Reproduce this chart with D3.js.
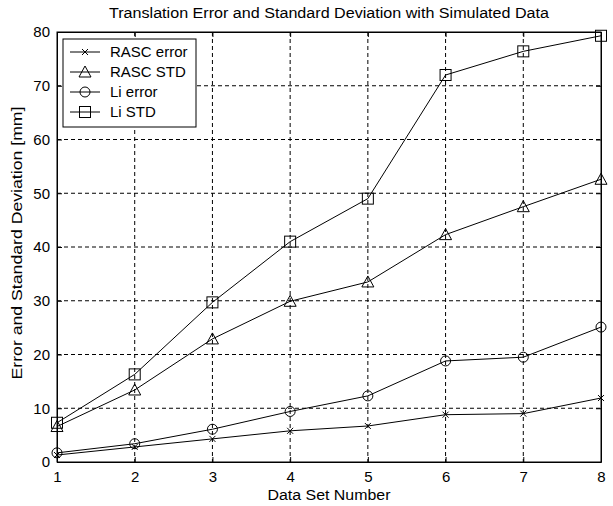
<!DOCTYPE html>
<html>
<head>
<meta charset="utf-8">
<script src="https://cdn.jsdelivr.net/npm/d3@7"></script>
<style>
  body { margin: 0; background: #fff; }
  text { font-family: Arial, "Liberation Sans", sans-serif; fill: #000; }
</style>
</head>
<body>
<div id="chart"></div>
<script>
// Data
var dataSets = [1, 2, 3, 4, 5, 6, 7, 8];
var rascError = [1.3, 2.8, 4.3, 5.8, 6.7, 8.8, 9.0, 11.9];
var rascStd   = [6.6, 13.4, 22.9, 29.9, 33.5, 42.3, 47.5, 52.6];
var liError   = [1.7, 3.4, 6.1, 9.4, 12.3, 18.8, 19.5, 25.1];
var liStd     = [7.3, 16.3, 29.7, 41.0, 49.0, 72.0, 76.4, 79.3];
var seriesNames = ["RASC error", "RASC STD", "Li error", "Li STD"];
var yTicks = [0, 10, 20, 30, 40, 50, 60, 70, 80];

var titleText = "Translation Error and Standard Deviation with Simulated Data";
var xLabel = "Data Set Number";
var yLabel = "Error and Standard Deviation [mm]";

// size and margins
var margin = {top: 32, right: 12, bottom: 44, left: 57},
    width = 613 - margin.left - margin.right,
    height = 506 - margin.top - margin.bottom;

var svg = d3.select("#chart")
  .append("svg")
    .attr("width", 613)
    .attr("height", 506);

var g = svg.append("g")
  .attr("transform", "translate(" + margin.left + "," + margin.top + ")");

var x = d3.scaleLinear().domain([1, 8]).range([0, width]);
var y = d3.scaleLinear().domain([0, 80]).range([height, 0]);

// dashed grid
g.selectAll(".vgrid")
  .data(dataSets.slice(1, -1))
  .enter().append("line")
    .attr("x1", d => x(d)).attr("x2", d => x(d))
    .attr("y1", 0).attr("y2", height)
    .attr("stroke", "#000").attr("stroke-dasharray", "4,3");
g.selectAll(".hgrid")
  .data(yTicks.slice(1, -1))
  .enter().append("line")
    .attr("y1", d => y(d)).attr("y2", d => y(d))
    .attr("x1", 0).attr("x2", width)
    .attr("stroke", "#000").attr("stroke-dasharray", "4,3");

// axes (ticks pointing inward, Matlab style)
var xAxis = g.append("g")
  .attr("transform", "translate(0," + height + ")")
  .call(d3.axisBottom(x).tickValues(dataSets).tickFormat(d3.format("d"))
        .tickSizeInner(-5).tickSizeOuter(0).tickPadding(9));
var yAxis = g.append("g")
  .call(d3.axisLeft(y).tickValues(yTicks).tickSizeInner(-5).tickSizeOuter(0).tickPadding(7));
g.append("g")
  .attr("transform", "translate(0,0)")
  .call(d3.axisTop(x).tickValues(dataSets).tickFormat("").tickSizeInner(-5).tickSizeOuter(0));
g.append("g")
  .attr("transform", "translate(" + width + ",0)")
  .call(d3.axisRight(y).tickValues(yTicks).tickFormat("").tickSizeInner(-5).tickSizeOuter(0));

g.selectAll(".domain").attr("stroke", "#000");
g.selectAll(".tick line").attr("stroke", "#000");
g.selectAll(".tick text").style("font-size", "15px");

// plot box
g.append("rect")
  .attr("width", width).attr("height", height)
  .attr("fill", "none").attr("stroke", "#000");

// markers
function drawMarker(sel, kind) {
  if (kind === "x") {
    sel.append("path").attr("d", "M-3,-3L3,3M-3,3L3,-3")
      .attr("stroke", "#000").attr("fill", "none");
  } else if (kind === "tri") {
    sel.append("path").attr("d", "M0,-6L6,5L-6,5Z")
      .attr("stroke", "#000").attr("fill", "none");
  } else if (kind === "circle") {
    sel.append("circle").attr("r", 5)
      .attr("stroke", "#000").attr("fill", "none");
  } else {
    sel.append("rect").attr("x", -5.5).attr("y", -5.5).attr("width", 11).attr("height", 11)
      .attr("stroke", "#000").attr("fill", "none");
  }
}

var allSeries = [rascError, rascStd, liError, liStd];
var markerKinds = ["x", "tri", "circle", "square"];

var line = d3.line()
  .x((d, i) => x(dataSets[i]))
  .y(d => y(d));

allSeries.forEach(function(vals, k) {
  g.append("path")
    .datum(vals)
    .attr("d", line)
    .attr("fill", "none")
    .attr("stroke", "#000")
    .attr("stroke-width", 1);
  g.selectAll(".m" + k)
    .data(vals)
    .enter().append("g")
      .attr("transform", (d, i) => "translate(" + x(dataSets[i]) + "," + y(d) + ")")
      .each(function() { drawMarker(d3.select(this), markerKinds[k]); });
});

// legend
var legend = g.append("g").attr("transform", "translate(6,7)");
legend.append("rect")
  .attr("width", 133).attr("height", 88)
  .attr("fill", "#fff").attr("stroke", "#000");
seriesNames.forEach(function(name, k) {
  var row = legend.append("g").attr("transform", "translate(0," + (13 + k * 20) + ")");
  row.append("line").attr("x1", 7).attr("x2", 37).attr("stroke", "#000");
  var mk = row.append("g").attr("transform", "translate(22,0)");
  drawMarker(mk, markerKinds[k]);
  row.append("text")
    .attr("x", 47).attr("dy", "0.36em")
    .style("font-size", "15px")
    .text(name);
});

// title and labels
svg.append("text")
  .attr("x", margin.left + width / 2).attr("y", 18)
  .attr("text-anchor", "middle")
  .style("font-size", "14px")
  .attr("textLength", 440).attr("lengthAdjust", "spacingAndGlyphs")
  .text(titleText);

svg.append("text")
  .attr("x", margin.left + width / 2).attr("y", 500)
  .attr("text-anchor", "middle")
  .style("font-size", "14px")
  .attr("textLength", 123).attr("lengthAdjust", "spacingAndGlyphs")
  .text(xLabel);

svg.append("text")
  .attr("transform", "translate(22," + (margin.top + height / 2 - 4) + ") rotate(-90)")
  .attr("text-anchor", "middle")
  .style("font-size", "14px")
  .attr("textLength", 273).attr("lengthAdjust", "spacingAndGlyphs")
  .text(yLabel);
</script>
</body>
</html>
